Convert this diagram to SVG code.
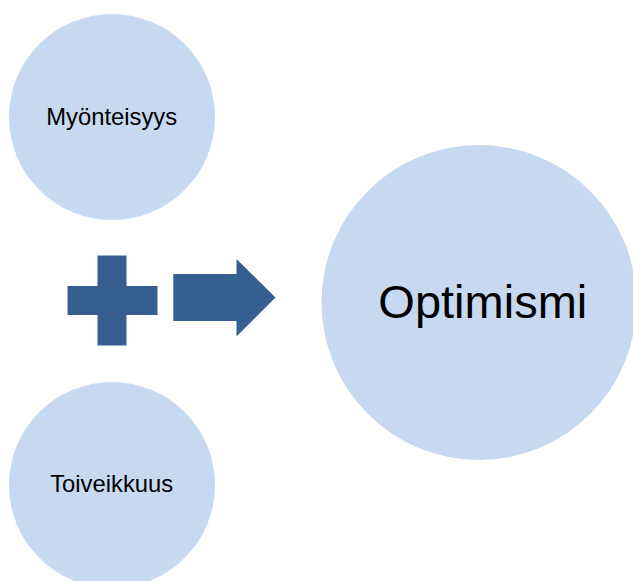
<svg xmlns="http://www.w3.org/2000/svg" width="633" height="581" viewBox="0 0 633 581">
  <style>
    .bubble { fill: #C6D9F0; }
    .shape { fill: #365F91; }
    .label { font-family: "Liberation Sans", Arial, sans-serif; fill: #000000; text-anchor: middle; }
  </style>
  <rect width="633" height="581" fill="#FFFFFF"/>
  <g id="myonteisyys">
    <circle class="bubble" cx="112" cy="117" r="103"/>
    <text class="label" x="111.7" y="125" font-size="23.8">Myönteisyys</text>
  </g>
  <g id="toiveikkuus">
    <circle class="bubble" cx="112" cy="485" r="103"/>
    <text class="label" x="111.7" y="491.7" font-size="23.8">Toiveikkuus</text>
  </g>
  <g id="optimismi">
    <circle class="bubble" cx="479" cy="302.5" r="157.5"/>
    <text class="label" x="482.8" y="317.7" font-size="47">Optimismi</text>
  </g>
  <g id="connectors">
    <!-- plus sign -->
    <path class="shape" d="M97.5,255.5 H126.5 V286 H157.5 V315 H126.5 V345.5 H97.5 V315 H67.5 V286 H97.5 Z"/>
    <!-- block arrow -->
    <path class="shape" d="M173.3,274 H236.5 V259 L275.5,297.5 L236.5,336.5 V321 H173.3 Z"/>
  </g>
</svg>
